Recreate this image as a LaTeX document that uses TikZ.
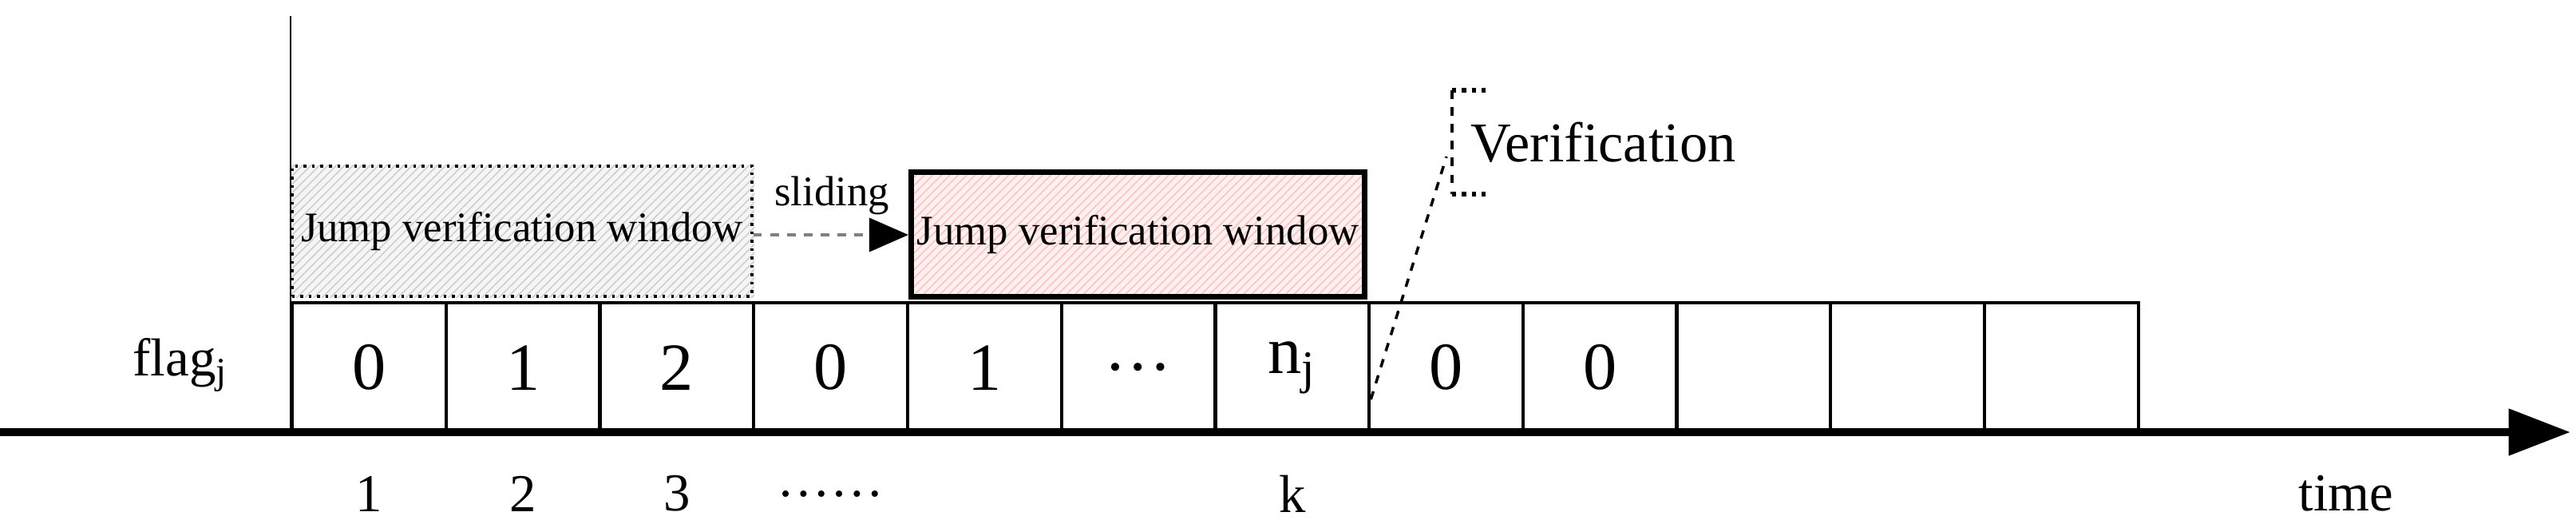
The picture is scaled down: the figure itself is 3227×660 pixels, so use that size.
\documentclass[tikz,border=0pt]{standalone}
\usepackage{fontspec}
\setmainfont{Liberation Serif}
\usetikzlibrary{patterns,arrows.meta}
\begin{document}
\begin{tikzpicture}[x=0.01cm,y=-0.01cm,
  cell/.style={draw,line width=1.2pt,minimum width=1.927cm,minimum height=1.62cm,anchor=north west,inner sep=0pt,font=\fontsize{24}{26}\selectfont},
  lab/.style={font=\fontsize{19}{21}\selectfont},
  win/.style={anchor=north west,inner sep=0pt,font=\fontsize{15}{17}\selectfont}]
\useasboundingbox (0,0) rectangle (3227,660);
% windows
\fill[gray!8] (364,206) rectangle (945,372);
\fill[pattern=north east lines,pattern color=gray!40] (364,206) rectangle (945,372);
\node[win,draw,dotted,line width=1pt,minimum width=5.76cm,minimum height=1.63cm] (w1) at (364,206) {Jump verification window};
\fill[red!6] (1138,212) rectangle (1712,372);
\fill[pattern=north east lines,pattern color=red!25] (1138,212) rectangle (1712,372);
\node[win,draw,line width=2pt,minimum width=5.68cm,minimum height=1.56cm] (w2) at (1138,212) {Jump verification window};
\draw[dashed,gray,line width=1pt,-{Triangle[length=14pt,width=12pt,black]}] (w1.east|-0,294) -- (w2.west|-0,294);
\node[font=\fontsize{15}{17}\selectfont] (sl) at (1042,245) {sliding};
% cells
\foreach \t [count=\i from 0] in {{0},{1},{2},{0},{1},{\ldots},{n\textsubscript{j}},{0},{0},{},{},{}} {
  \node[cell] (c\i) at ({364+192.7*\i},377) {\t};
}
% axis
\coordinate (a0) at (0,541);
\coordinate (a1) at (3220,541);
\draw[line width=3pt,-{Triangle[length=22pt,width=16pt]}] (a0) -- (a1);
\coordinate (vt) at (364,20);
\draw[line width=0.8pt] (vt) -- (364,541);
\node[lab] (flag) at (226,457) {flag\textsubscript{j}};
\node[lab] (t1) at (c0|-0,618) {1};
\node[lab] (t2) at (c1|-0,618) {2};
\node[lab] (t3) at (c2|-0,618) {3};
\node[lab] (t4) at (c3|-0,618) {\ldots\ldots};
\node[lab] (tk) at (c6|-0,618) {k};
\node[lab] (time) at (2939,618) {time};
% verification
\coordinate (vtp) at (1819,113);
\coordinate (vbt) at (1819,243);
\draw[dashed,line width=1pt] (c6.east|-0,500) -- (1812,196);
\draw[dashed,line width=1.2pt] (vtp) -- (vbt);
\draw[dotted,line width=1.5pt] (vtp) -- ++(45,0);
\draw[dotted,line width=1.5pt] (vbt) -- ++(45,0);
\node[anchor=west,font=\fontsize{20}{22}\selectfont] (ver) at (1830,178) {Verification};
\end{tikzpicture}
\end{document}
